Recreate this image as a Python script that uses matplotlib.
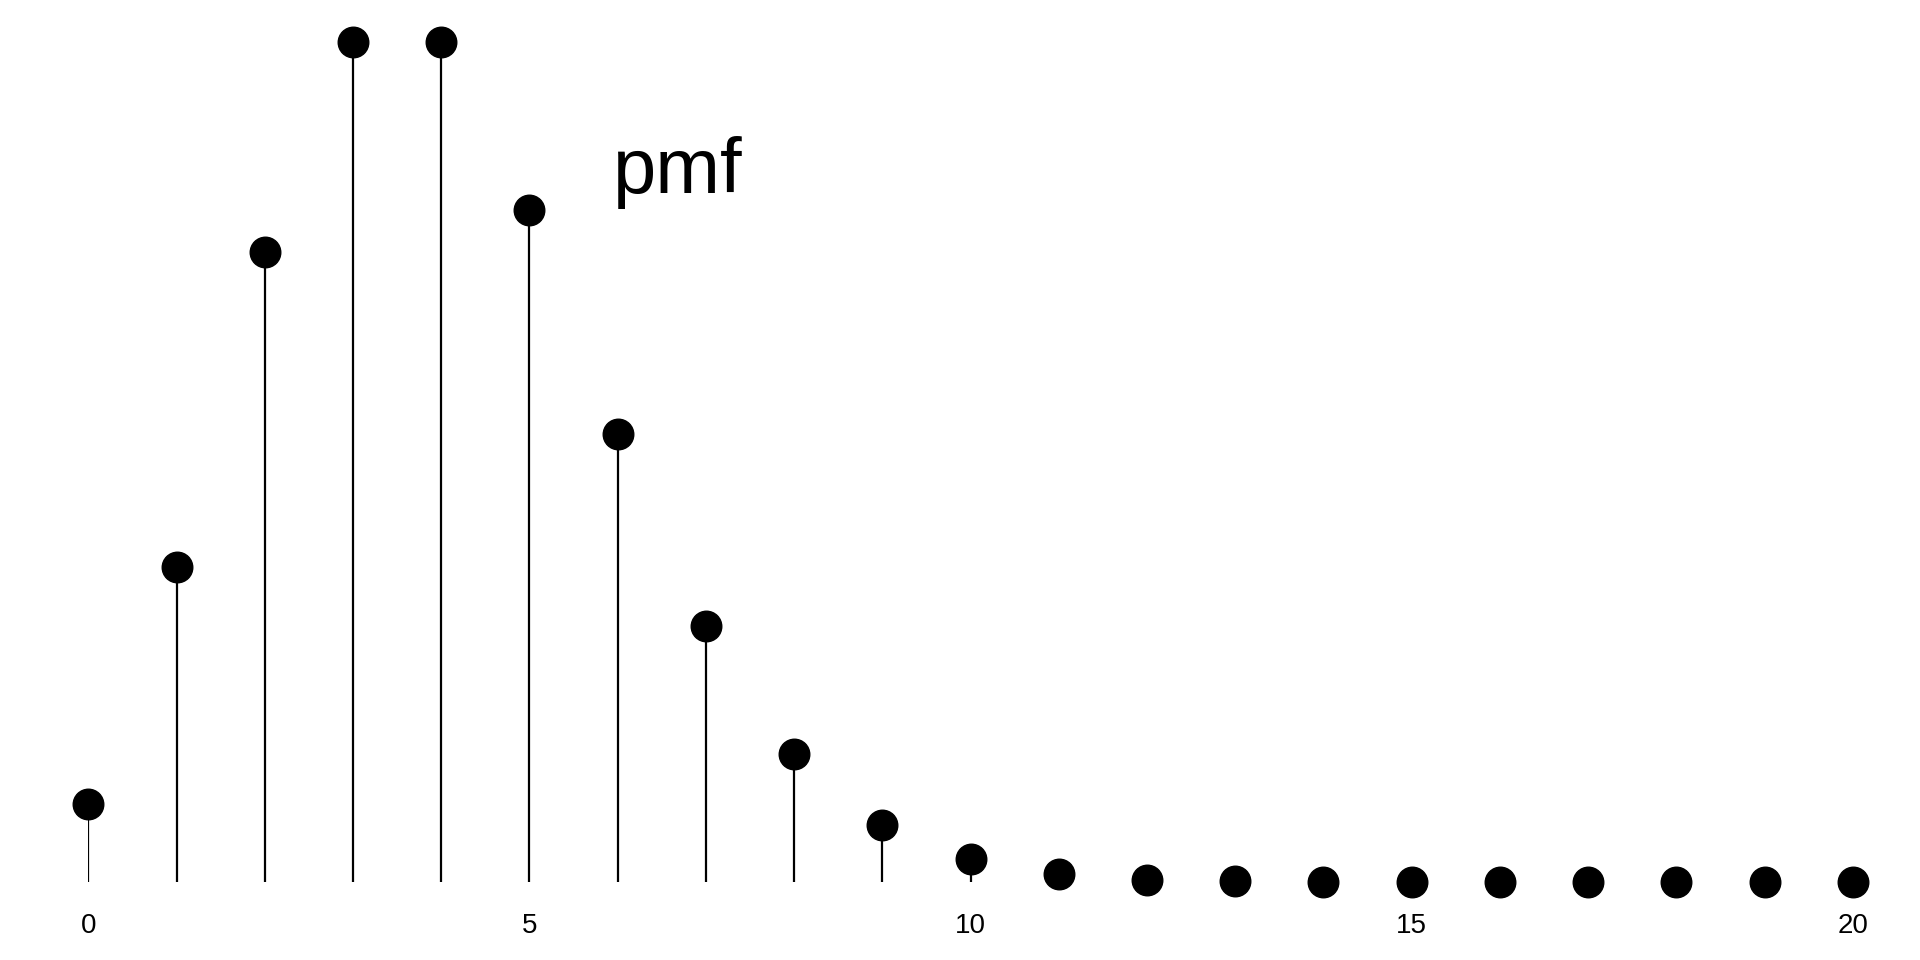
import matplotlib.pyplot as plt

# Poisson(4) pmf values
k = list(range(21))
pmf = [0.0183, 0.0733, 0.1465, 0.1954, 0.1954, 0.1563, 0.1042, 0.0595, 0.0298,
       0.0132, 0.0053, 0.0019, 0.0006, 0.0002, 0.0001, 0.0, 0.0, 0.0, 0.0, 0.0, 0.0]
ticks = [0, 5, 10, 15, 20]

plt.rcParams['font.family'] = ['Liberation Sans', 'DejaVu Sans']
fig = plt.figure(figsize=(19.2, 9.6), dpi=100)
ax = fig.add_axes([0.046, 0.081, 0.919, 0.875])
ax.vlines(k, 0, pmf, color='black', linewidth=1.6)
ax.plot(k, pmf, 'o', color='black', markersize=22, clip_on=False)
ax.set_xlim(0, 20)
ax.set_ylim(0, max(pmf))
ax.set_xticks(ticks)
ax.set_xticklabels([str(t) for t in ticks], fontsize=20)
ax.tick_params(axis='x', length=0, pad=22)
ax.set_yticks([])
for s in ax.spines.values():
    s.set_visible(False)
ax.text(5.95, 0.165, 'pmf', fontsize=56, va='center', ha='left')
fig.savefig('out.png')
